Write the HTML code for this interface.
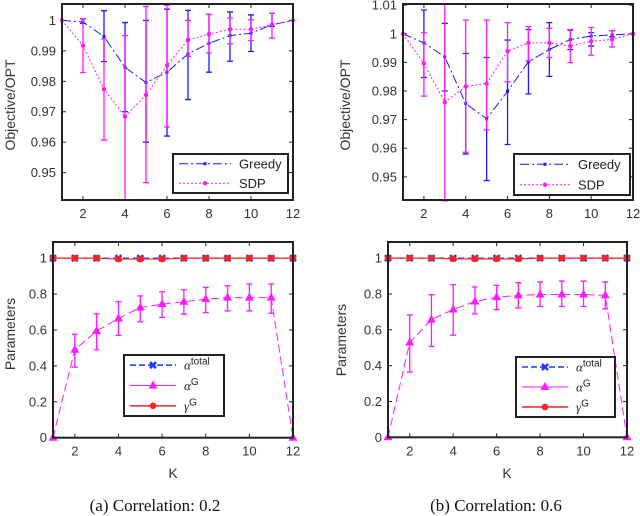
<!DOCTYPE html>
<html><head><meta charset="utf-8"><style>
body{margin:0;background:#fff;width:640px;height:516px;overflow:hidden}
svg{display:block;font-family:"Liberation Sans",sans-serif}
</style></head><body>
<svg id="c" width="640" height="516"></svg>
<script>
const ks=[1,2,3,4,5,6,7,8,9,10,11,12];
// (a) top
const aGreedy=[1,0.9995,0.9947,0.9846,0.9796,0.983,0.989,0.9925,0.995,0.9958,0.9986,1];
const aGreedyLo=[1,0.999,0.9865,0.970,0.960,0.962,0.974,0.983,0.9866,0.9898,0.998,1];
const aGreedyHi=[1,1.0005,1.0032,0.9993,1.0,1.0037,1.0033,1.002,1.0028,1.0018,1.0024,1];
const aSdp=[1,0.9917,0.9774,0.9684,0.9755,0.9852,0.9936,0.9955,0.9971,0.9971,0.9986,1];
const aSdpLo=[1,0.9829,0.9607,0.941,0.9467,0.965,0.9882,0.9893,0.9923,0.9934,0.9942,1];
const aSdpHi=[1,1.0005,0.9939,0.995,1.0046,1.005,1.0,1.0019,1.0008,1.0002,1.0024,1];
// (b) top
const bGreedy=[1,0.9968,0.9919,0.9756,0.9703,0.9799,0.9902,0.9945,0.998,0.9992,0.9996,1];
const bGreedyLo=[1,0.9847,0.980,0.958,0.9487,0.9613,0.979,0.9851,0.9945,0.9957,0.9989,1];
const bGreedyHi=[1,1.0083,1.0036,0.9931,0.9917,0.9978,1.0015,1.0039,1.0013,1.0004,1.001,1];
const bSdp=[1,0.9896,0.9761,0.9816,0.9826,0.9939,0.9968,0.9968,0.9957,0.9974,0.998,1];
const bSdpLo=[1,0.9782,0.9416,0.9586,0.9664,0.9832,0.9905,0.9917,0.9899,0.9925,0.9954,1];
const bSdpHi=[1,1.0004,1.0104,1.0048,1.0048,1.0039,1.0025,1.0019,1.0015,1.0022,1.001,1];
// (a) bottom
const aAlphaTotal=[1,1,1,1,1,1,1,1,1,1,1,1];
const aAlphaG=[0,0.49,0.594,0.664,0.725,0.744,0.757,0.772,0.78,0.78,0.78,0];
const aAlphaGLo=[0,0.393,0.49,0.57,0.645,0.67,0.688,0.697,0.706,0.706,0.693,0];
const aAlphaGHi=[0,0.576,0.69,0.757,0.79,0.813,0.824,0.837,0.846,0.856,0.856,0];
const aGammaG=[1,1,1,0.995,0.995,0.995,1,1,1,1,1,1];
// (b) bottom
const bAlphaTotal=[1,1,1,1,1,1,1,1,1,1,1,1];
const bAlphaG=[0,0.529,0.657,0.713,0.758,0.782,0.792,0.797,0.797,0.797,0.792,0];
const bAlphaGLo=[0,0.364,0.507,0.57,0.689,0.713,0.722,0.73,0.73,0.73,0.717,0];
const bAlphaGHi=[0,0.683,0.796,0.852,0.839,0.848,0.863,0.867,0.872,0.872,0.867,0];
const bGammaG=[1,1,1,0.996,0.996,0.996,0.996,1,1,1,1,1];
const xTicks=[2,4,6,8,10,12];
const topTicks=[0.95,0.96,0.97,0.98,0.99,1];
const topTicksB=[0.95,0.96,0.97,0.98,0.99,1,1.01];
const botTicks=[0,0.2,0.4,0.6,0.8,1];

const NS="http://www.w3.org/2000/svg";
const svg=document.getElementById('c');
function mk(tag,at,parent){const e=document.createElementNS(NS,tag);for(const k in at)e.setAttribute(k,at[k]);(parent||svg).appendChild(e);return e;}
function txt(s,x,y,size,anchor,parent,fam,fill){const t=mk('text',{x:x,y:y,'font-size':size,'text-anchor':anchor||'middle',fill:fill||'#222'},parent);if(fam)t.setAttribute('font-family',fam);t.textContent=s;return t;}

function panel(name,box,ymin,ymax,yt,ytFmt){
  const g=mk('g',{});
  
  
  const X=v=>box.x0+(v-1)/11*(box.x1-box.x0);
  const Y=v=>box.y1-(v-ymin)/(ymax-ymin)*(box.y1-box.y0);
  const ax=mk('g',{},g);
  
  
  xTicks.forEach(t=>{const x=X(t);
    mk('line',{x1:x,x2:x,y1:box.y1,y2:box.y1-4,stroke:'#222'},ax);
    mk('line',{x1:x,x2:x,y1:box.y0,y2:box.y0+4,stroke:'#222'},ax);
    const l=txt(String(t),x,box.y1+18,13,'middle',ax,null,'#333');
    
    
  });
  yt.forEach(t=>{const y=Y(t);
    mk('line',{x1:box.x0,x2:box.x0+4,y1:y,y2:y,stroke:'#222'},ax);
    mk('line',{x1:box.x1,x2:box.x1-4,y1:y,y2:y,stroke:'#222'},ax);
    const l=txt(ytFmt(t),box.x0-6,y+4.5,13,'end',ax,null,'#333');
    
    
  });
  return {g,X,Y};
}
function series(p,name,vals,lo,hi,color,dash,marker,width){
  const g=mk('g',{},p.g);
  
  
  const pts=ks.map((k,i)=>p.X(k)+','+p.Y(vals[i])).join(' ');
  mk('polyline',{points:pts,fill:'none',stroke:color,'stroke-width':width||1,'stroke-dasharray':dash},g);
  if(lo)ks.forEach((k,i)=>{if(hi[i]-lo[i]<1e-6)return;const x=p.X(k),a=p.Y(lo[i]),b=p.Y(hi[i]);
    const e=mk('path',{d:`M${x},${a}V${b}M${x-3},${a}h6M${x-3},${b}h6`,stroke:color,'stroke-width':1.3,fill:'none'},g);
    
    
  });
  ks.forEach((k,i)=>drawMarker(g,marker,p.X(k),p.Y(vals[i]),color));
}
function drawMarker(g,m,x,y,c){
  if(m==='sq')mk('rect',{x:x-1.5,y:y-1.5,width:3,height:3,fill:c},g);
  else if(m==='dot')mk('circle',{cx:x,cy:y,r:2.2,fill:c},g);
  else if(m==='bigdot')mk('circle',{cx:x,cy:y,r:3.3,fill:c},g);
  else if(m==='tri')mk('path',{d:`M${x},${y-5}L${x+4.5},${y+3}L${x-4.5},${y+3}Z`,fill:c},g);
  else if(m==='x')mk('path',{d:`M${x-3},${y-3}L${x+3},${y+3}M${x+3},${y-3}L${x-3},${y+3}`,stroke:c,'stroke-width':2.6},g);
}
function frame(p,box){mk('rect',{x:box.x0,y:box.y0,width:box.x1-box.x0,height:box.y1-box.y0,fill:'none',stroke:'#222','stroke-width':2},p.g);}
function legend(p,name,lb,entries){
  const g=mk('g',{},p.g);
  
  
  mk('rect',{x:lb.x,y:lb.y,width:lb.w,height:lb.h,fill:'#fff',stroke:'#222','stroke-width':2},g);
  const step=lb.h/entries.length;
  entries.forEach((e,i)=>{const y=lb.y+step*(i+0.5);
    const eg=mk('g',{},g);
    
    
    mk('line',{x1:lb.x+6,x2:lb.x+lb.lw,y1:y,y2:y,stroke:e.c,'stroke-width':e.w||1,'stroke-dasharray':e.d},eg);
    drawMarker(eg,e.m,lb.x+6+(lb.lw-6)/2,y,e.c);
    const t=txt('',lb.x+lb.lw+8,y+4.5,13,'start',eg,null,'#222');
    if(e.sup){t.textContent=e.t;t.setAttribute('font-family','"Liberation Serif",serif');t.setAttribute('font-style','italic');
      const s=mk('tspan',{dy:-5,'font-size':10,'font-style':'normal','font-family':'"Liberation Sans",sans-serif'},t);s.textContent=e.sup;}
    else t.textContent=e.t;
  });
}
const fmtTop=t=>t===1?'1':t.toFixed(2);
const fmtBot=t=>t===0?'0':t===1?'1':t.toFixed(1);

// (a) top
let box={x0:62,x1:293,y0:4,y1:200};
let p=panel('objective-chart-a',box,0.941,1.0054,topTicks,fmtTop);
series(p,'greedy-series',aGreedy,aGreedyLo,aGreedyHi,'#1a1aff','9,3,2,3','sq');
series(p,'sdp-series',aSdp,aSdpLo,aSdpHi,'#ff1aff','2,2','dot');
frame(p,box);
legend(p,'legend-a-top',{x:173,y:154,w:115,h:39,lw:58},[{t:'Greedy',c:'#1a1aff',d:'9,3,2,3',m:'sq'},{t:'SDP',c:'#ff1aff',d:'2,2',m:'dot'}]);
// (b) top
box={x0:403,x1:633,y0:4,y1:200};
p=panel('objective-chart-b',box,0.9419,1.0104,topTicksB,t=>t===1?'1':t.toFixed(2));
series(p,'greedy-series',bGreedy,bGreedyLo,bGreedyHi,'#1a1aff','9,3,2,3','sq');
series(p,'sdp-series',bSdp,bSdpLo,bSdpHi,'#ff1aff','2,2','dot');
frame(p,box);
legend(p,'legend-b-top',{x:514,y:154,w:116,h:41,lw:56},[{t:'Greedy',c:'#1a1aff',d:'9,3,2,3',m:'sq'},{t:'SDP',c:'#ff1aff',d:'2,2',m:'dot'}]);
// (a) bottom
box={x0:53,x1:293,y0:242,y1:437.7};
p=panel('parameters-chart-a',box,0,1.09,botTicks,fmtBot);
series(p,'alpha-g-series',aAlphaG,aAlphaGLo,aAlphaGHi,'#ff1aff','8,4','tri',1);
series(p,'alpha-total-series',aAlphaTotal,null,null,'#1a3aff','6,4','x',1.2);
series(p,'gamma-g-series',aGammaG,null,null,'#ff2020',null,'bigdot',1.2);
frame(p,box);
const legB=[{t:'α',sup:'total',c:'#1a3aff',d:'6,3',m:'x',w:1.5},{t:'α',sup:'G',c:'#ff1aff',d:null,m:'tri'},{t:'γ',sup:'G',c:'#ff2020',d:null,m:'bigdot',w:1.5}];
legend(p,'legend-a-bottom',{x:124,y:355,w:100,h:61,lw:52},legB);
// (b) bottom
box={x0:388,x1:627,y0:242,y1:437.3};
p=panel('parameters-chart-b',box,0,1.09,botTicks,fmtBot);
series(p,'alpha-g-series',bAlphaG,bAlphaGLo,bAlphaGHi,'#ff1aff','8,4','tri',1);
series(p,'alpha-total-series',bAlphaTotal,null,null,'#1a3aff','6,4','x',1.2);
series(p,'gamma-g-series',bGammaG,null,null,'#ff2020',null,'bigdot',1.2);
frame(p,box);
legend(p,'legend-b-bottom',{x:516,y:357,w:99,h:60,lw:52},legB);

// axis titles
function rot(s,x,y,name){const t=txt(s,x,y,14,'middle',null,null,'#333');t.setAttribute('transform',`rotate(-90 ${x} ${y})`);
  }
rot('Objective/OPT',15,105,'y-axis-title-a-top');
rot('Objective/OPT',350,105,'y-axis-title-b-top');
rot('Parameters',15,334,'y-axis-title-a-bottom');
rot('Parameters',346,340,'y-axis-title-b-bottom');
let t=txt('K',173,478,14,'middle',null,null,'#333');
t=txt('K',507,478,14,'middle',null,null,'#333');
t=txt('(a) Correlation: 0.2',155,511,17,'middle',null,'"Liberation Serif",serif','#111');
t=txt('(b) Correlation: 0.6',496,511,17,'middle',null,'"Liberation Serif",serif','#111');
</script>
</body></html>
